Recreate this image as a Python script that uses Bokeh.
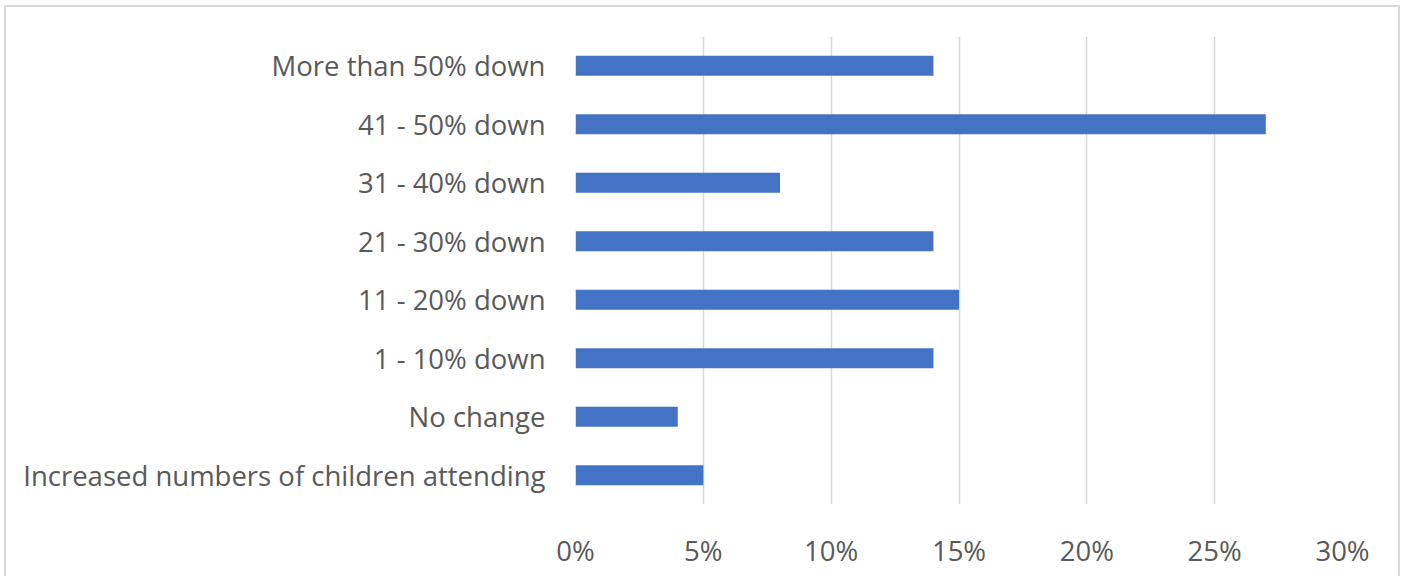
from bokeh.plotting import figure
from bokeh.models import Range1d, NumeralTickFormatter, FixedTicker
from bokeh.embed import file_html
from bokeh.resources import INLINE

categories = ["Increased numbers of children attending", "No change", "1 - 10% down",
              "11 - 20% down", "21 - 30% down", "31 - 40% down", "41 - 50% down",
              "More than 50% down"]
values = [0.05, 0.04, 0.14, 0.15, 0.14, 0.08, 0.27, 0.14]
x_ticks = [0, 0.05, 0.10, 0.15, 0.20, 0.25, 0.30]

W, H = 1396, 571
p = figure(width=W, height=H, y_range=categories, x_range=Range1d(0, 0.30),
           output_backend="svg", toolbar_location=None,
           min_border_left=569, min_border_right=W - 569 - 767,
           min_border_top=29, min_border_bottom=H - 29 - 468)
p.hbar(y=categories, right=values, left=0, height=0.34, color="#4472C4", line_color=None)

p.xaxis.ticker = FixedTicker(ticks=x_ticks)
p.xaxis.formatter = NumeralTickFormatter(format="0%")
p.xgrid.ticker = FixedTicker(ticks=x_ticks)
p.xgrid.grid_line_color = "#d9d9d9"
p.xgrid.grid_line_width = 1.5
p.ygrid.grid_line_color = None
p.outline_line_color = None

for ax in (p.xaxis, p.yaxis):
    ax.axis_line_color = None
    ax.major_tick_line_color = None
    ax.minor_tick_line_color = None
    ax.major_label_text_color = "#595959"
    ax.major_label_text_font = "Open Sans"
    ax.major_label_text_font_size = "27.5px"
p.xaxis.major_label_standoff = 21
p.yaxis.major_label_standoff = 24

p.styles = {"border-left": "2px solid #d9d9d9", "border-top": "2px solid #d9d9d9",
            "border-right": "2px solid #d9d9d9", "margin-left": "4px", "margin-top": "5px"}

open("out.html", "w").write(file_html(p, INLINE))
